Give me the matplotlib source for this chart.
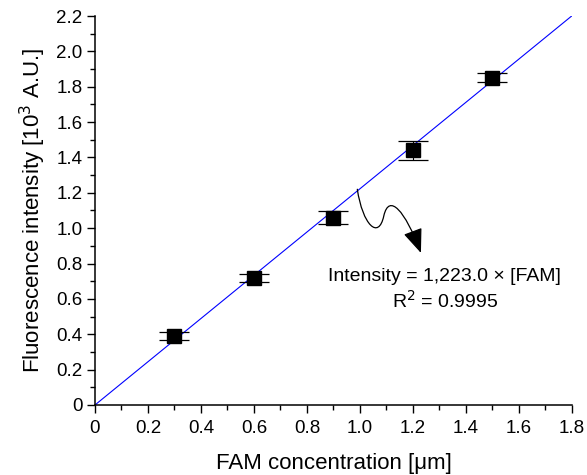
import numpy as np
import matplotlib
matplotlib.use("Agg")
import matplotlib.pyplot as plt
from matplotlib.path import Path
from matplotlib.patches import FancyArrowPatch
from matplotlib.ticker import MultipleLocator, FixedFormatter, FixedLocator

plt.rcParams['font.family'] = ['Liberation Sans', 'DejaVu Sans']

# data
conc = [0.3, 0.6, 0.9, 1.2, 1.5]
intensity = [0.39, 0.72, 1.06, 1.44, 1.85]
err = [0.025, 0.022, 0.038, 0.053, 0.025]
slope = 1.223
fit_x = [0.0, 1.8]
xticks = [0, 0.2, 0.4, 0.6, 0.8, 1.0, 1.2, 1.4, 1.6, 1.8]
xlabels = ['0', '0.2', '0.4', '0.6', '0.8', '1.0', '1.2', '1.4', '1.6', '1.8']
yticks = [0, 0.2, 0.4, 0.6, 0.8, 1.0, 1.2, 1.4, 1.6, 1.8, 2.0, 2.2]
ylabels = ['0', '0.2', '0.4', '0.6', '0.8', '1.0', '1.2', '1.4', '1.6', '1.8', '2.0', '2.2']

fig = plt.figure(figsize=(5.87, 4.75), dpi=100)
ax = fig.add_axes([0.1618, 0.1474, 0.8126, 0.8189])

ax.plot(fit_x, [slope * v for v in fit_x], color='#0000ff', lw=0.8, zorder=2)
ax.errorbar(conc, intensity, yerr=err, fmt='none', ecolor='black',
            elinewidth=0.8, capsize=10.5, capthick=0.9, zorder=3)
ax.plot(conc, intensity, 's', color='black', ms=9.5, zorder=4)

ax.set_xlim(0, 1.8)
ax.set_ylim(0, 2.2)
ax.xaxis.set_major_locator(FixedLocator(xticks))
ax.xaxis.set_major_formatter(FixedFormatter(xlabels))
ax.yaxis.set_major_locator(FixedLocator(yticks))
ax.yaxis.set_major_formatter(FixedFormatter(ylabels))
ax.xaxis.set_minor_locator(MultipleLocator(0.1))
ax.yaxis.set_minor_locator(MultipleLocator(0.1))
ax.tick_params(which='major', direction='out', length=6, width=1.0, labelsize=13.5)
ax.tick_params(axis='x', which='major', pad=5)
ax.tick_params(axis='y', which='major', pad=3)
ax.tick_params(which='minor', direction='out', length=3.5, width=1.0)
for s in ['top', 'right']:
    ax.spines[s].set_visible(False)
for s in ['left', 'bottom']:
    ax.spines[s].set_linewidth(1.1)

ax.set_xlabel('FAM concentration [\u03bcm]', fontsize=16, labelpad=11)
ax.set_ylabel('Fluorescence intensity [10$^3$ A.U.]', fontsize=16, labelpad=6)

# wavy arrow annotation
verts = [(0.99, 1.22), (1.01, 1.02), (1.07, 0.93), (1.09, 1.07),
         (1.11, 1.20), (1.17, 1.10), (1.23, 0.86)]
codes = [Path.MOVETO, Path.CURVE4, Path.CURVE4, Path.CURVE4,
         Path.CURVE4, Path.CURVE4, Path.CURVE4]
arr = FancyArrowPatch(path=Path(verts, codes), arrowstyle='-|>,head_length=15,head_width=6',
                      color='black', lw=0.9, shrinkA=0, shrinkB=0, zorder=5)
ax.add_patch(arr)

ax.text(1.32, 0.65, 'Intensity = 1,223.0 \u00d7 [FAM]\nR$^2$ = 0.9995',
        ha='center', va='center', fontsize=14, linespacing=1.3)

fig.savefig('out.png', dpi=100)
